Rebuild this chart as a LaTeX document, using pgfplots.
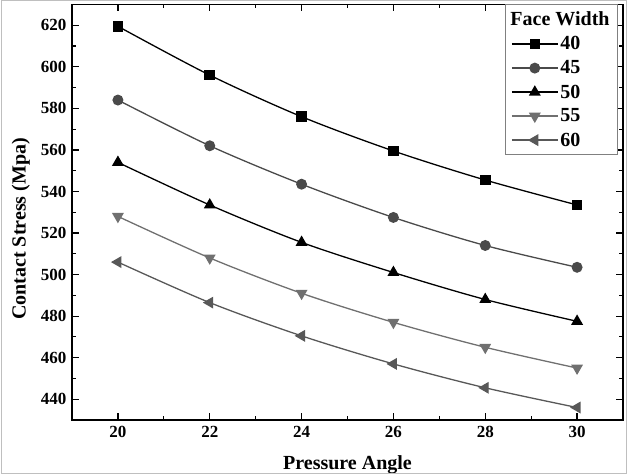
\documentclass[border=0pt]{standalone}
\usepackage{fontspec}
\setmainfont{Liberation Serif}
\usepackage{pgfplots}
\pgfplotsset{compat=1.18}
\usetikzlibrary{calc}
\definecolor{sA}{HTML}{000000}
\definecolor{sB}{HTML}{4A4A4A}
\definecolor{sC}{HTML}{000000}
\definecolor{sD}{HTML}{707070}
\definecolor{sE}{HTML}{585858}

\begin{document}
\begin{tikzpicture}
\begin{axis}[
    scale only axis,
    width=551pt, height=415.5pt,
    xmin=19, xmax=31, ymin=430, ymax=630,
    xtick={20,22,...,30}, ytick={440,460,...,620},
    minor x tick num=1, minor y tick num=1,
    tick align=inside,
    major tick length=7pt, minor tick length=4pt,
    axis line style={line width=1.5pt},
    every tick/.style={black, line width=1.2pt},
    /pgf/number format/assume math mode=true,
    tick label style={font=\fontsize{17}{17}\selectfont\bfseries},
    xticklabel style={yshift=-3pt},
    yticklabel style={xshift=-2pt},
    xlabel={Pressure Angle},
    ylabel={Contact Stress (Mpa)},
    label style={font=\fontsize{20}{20}\selectfont\bfseries},
    xlabel style={at={(axis description cs:0.5,-0.108)}, anchor=center},
    ylabel style={at={(axis description cs:-0.093,0.46)}, anchor=center},
    legend style={at={(rel axis cs:0.991,1)}, anchor=north east,
        draw=gray, line width=1pt, font=\fontsize{20}{20}\selectfont\bfseries,
        row sep=5.3pt, inner xsep=6pt, inner ysep=5pt},
    legend cell align=left,
    legend image code/.code={
        \draw[#1, mark=none] (0pt,0pt) -- (46pt,0pt);
        \draw[#1, only marks] plot coordinates {(23pt,0pt)};
    },
    every axis plot/.append style={smooth, tension=0.5, line width=1.3pt},
    clip=false,
]
\coordinate (sw) at (rel axis cs:0,0);
\coordinate (ne) at (rel axis cs:1,1);
\addlegendimage{empty legend}
\addlegendentry{\hspace*{-50pt}Face Width}
\addplot[color=sA, mark=square*, mark size=4.6pt] coordinates {
    (20,619.5) (22,596) (24,576) (26,559.5) (28,545.5) (30,533.5)};
\addlegendentry{40}
\addplot[color=sB, mark=*, mark size=4.8pt] coordinates {
    (20,584) (22,562) (24,543.5) (26,527.5) (28,514) (30,503.5)};
\addlegendentry{45}
\addplot[color=sC, mark=triangle*, mark size=5.6pt] coordinates {
    (20,554) (22,533.5) (24,515.5) (26,501) (28,488) (30,477.5)};
\addlegendentry{50}
\addplot[color=sD, mark=triangle*, mark size=5.6pt, mark options={rotate=180}] coordinates {
    (20,528) (22,508) (24,491) (26,477) (28,465) (30,455)};
\addlegendentry{55}
\addplot[color=sE, mark=triangle*, mark size=5.6pt, mark options={rotate=90}] coordinates {
    (20,506) (22,486.5) (24,470.5) (26,457) (28,445.5) (30,436)};
\addlegendentry{60}
\end{axis}
\pgfresetboundingbox
\path[use as bounding box] ($(sw)+(-72pt,-56pt)$) rectangle ($(ne)+(4pt,4.5pt)$);
\draw[gray!50, line width=1pt] ($(sw)+(-70pt,-54pt)$) rectangle ($(ne)+(3pt,3.5pt)$);
\end{tikzpicture}
\end{document}
